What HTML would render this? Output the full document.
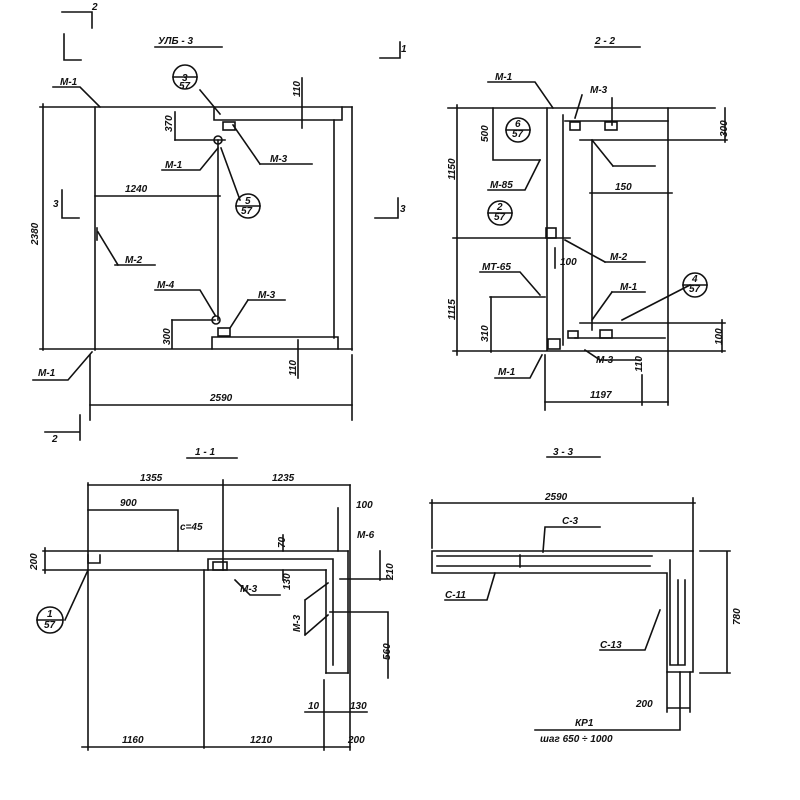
<!DOCTYPE html>
<html><head><meta charset="utf-8"><style>
html,body{margin:0;padding:0;background:#fff}
svg{display:block}
text{font-family:"Liberation Sans","DejaVu Sans",sans-serif;font-style:italic;font-size:10px;fill:#111;font-weight:bold}
</style></head><body>
<svg width="800" height="800" viewBox="0 0 800 800" xmlns="http://www.w3.org/2000/svg">
<g stroke="#111" stroke-width="1.6" fill="none" stroke-linecap="square">
<!-- ===== Top-left УЛБ-3 ===== -->
<path d="M62 12H92V28"/>
<path d="M64 34V60H81"/>
<path d="M62 190V218H79"/>
<path d="M380 58H400V42"/>
<path d="M375 218H398V198"/>
<path d="M155 47H222"/>
<path d="M40 107H352"/>
<path d="M43 104V350"/>
<path d="M95 107V350"/>
<path d="M352 107V350"/>
<path d="M334 120V338"/>
<path d="M214 107V120H342V107"/>
<path d="M212 349V337H338V349"/>
<path d="M218 140V320"/>
<path d="M40 349H352"/>
<path d="M175 140H225"/>
<path d="M172 320H215"/>
<path d="M95 196H220"/>
<path d="M90 355V420"/>
<path d="M352 355V420"/>
<path d="M90 405H352"/>
<path d="M80 415V440M45 432H80"/>
<path d="M302 78V128"/>
<path d="M298 340V378"/>
<path d="M175 112V140"/>
<path d="M172 320V348"/>
<path d="M53 87H80L100 107"/>
<path d="M33 380H68L92 352"/>
<path d="M115 265H155"/><path d="M98 232L118 265"/>
<path d="M162 170H200L218 148"/>
<path d="M260 164H312"/><path d="M233 125L260 164"/>
<path d="M155 290H200L215 315"/>
<path d="M248 300H285"/><path d="M230 328L248 300"/>
<path d="M200 90L220 114"/>
<path d="M221 148L240 200"/>
<rect x="223" y="122" width="12" height="8"/>
<rect x="218" y="328" width="12" height="8"/>
<circle cx="218" cy="140" r="4"/>
<circle cx="216" cy="320" r="4"/>
<circle cx="185" cy="77" r="12"/><path d="M173 77H197"/>
<circle cx="248" cy="206" r="12"/><path d="M236 206H260"/>
<path d="M97 228V240"/>

<!-- ===== Top-right 2-2 ===== -->
<path d="M595 47H640"/>
<path d="M448 108H715"/>
<path d="M457 105V355"/>
<path d="M453 351H725"/>
<path d="M547 108V350"/>
<path d="M563 115V345"/>
<path d="M668 108V405"/>
<path d="M565 121H668"/>
<path d="M580 140H727"/>
<path d="M592 140V330"/>
<path d="M580 323H725"/>
<path d="M575 338H665"/>
<path d="M590 193H672"/>
<path d="M453 238H570"/>
<path d="M493 108V160H540"/>
<path d="M490 297H545"/>
<path d="M491 297V352"/>
<path d="M725 108V142"/>
<path d="M722 320V352"/>
<path d="M545 355V410"/>
<path d="M545 402H668"/>
<path d="M555 248V268"/>
<path d="M488 82H535L553 108"/>
<path d="M488 190H525L540 160"/>
<path d="M480 272H520L540 295"/>
<path d="M495 378H530L542 355"/>
<path d="M600 360H640"/><path d="M585 350L600 360"/>
<path d="M605 262H645"/><path d="M565 240L605 262"/>
<path d="M613 166H655"/><path d="M592 140L613 166"/>
<path d="M612 292H645"/><path d="M592 320L612 292"/>
<path d="M622 320L690 285"/>
<path d="M612 98V125"/>
<path d="M642 375V405"/>
<path d="M582 95L575 118"/>
<rect x="546" y="228" width="10" height="10"/>
<rect x="548" y="339" width="12" height="10"/>
<rect x="568" y="331" width="10" height="7"/>
<rect x="600" y="330" width="12" height="8"/>
<rect x="570" y="122" width="10" height="8"/>
<rect x="605" y="122" width="12" height="8"/>
<circle cx="518" cy="130" r="12"/><path d="M506 130H530"/>
<circle cx="500" cy="213" r="12"/><path d="M488 213H512"/>
<circle cx="695" cy="285" r="12"/><path d="M683 285H707"/>

<!-- ===== Bottom-left 1-1 ===== -->
<path d="M187 458H237"/>
<path d="M88 483V750"/>
<path d="M88 485H350"/>
<path d="M223 480V570"/>
<path d="M350 485V750"/>
<path d="M88 510H178V551"/>
<path d="M43 551H348"/>
<path d="M43 570H326"/>
<path d="M45 548V573"/>
<path d="M348 551V673"/>
<path d="M326 570V673"/>
<path d="M326 673H348"/>
<path d="M208 570V559H333V665"/>
<path d="M204 570V748"/>
<path d="M82 747H350"/>
<path d="M324 680V750"/>
<path d="M305 712H367"/>
<path d="M330 612H388V678"/>
<path d="M340 579H390"/>
<path d="M380 551V580"/>
<path d="M338 508V551"/>
<path d="M283 535V551"/>
<path d="M283 570V580"/>
<path d="M88 555V563H100V555"/>
<path d="M235 580L250 595H280"/>
<path d="M305 600L328 583M305 635L328 615M305 600V635"/>
<path d="M65 620L88 570"/>
<rect x="213" y="562" width="14" height="8"/>
<circle cx="50" cy="620" r="13"/><path d="M37 620H63"/>

<!-- ===== Bottom-right 3-3 ===== -->
<path d="M547 457H600"/>
<path d="M432 500V548"/>
<path d="M430 503H695"/>
<path d="M693 498V551"/>
<path d="M432 551H693V672H667V573H432Z"/>
<path d="M437 556H652M437 566H650M520 555V567"/>
<path d="M670 560V665M678 580V665M685 580V665M670 665H685"/>
<path d="M700 551H730M700 673H730M727 551V673"/>
<path d="M667 672V712M690 672V712M667 708H690"/>
<path d="M600 527L545 527L543 552"/>
<path d="M445 600H487L495 573"/>
<path d="M600 650H645L660 610"/>
<path d="M535 730H680V672"/>
</g>
<g>
<text x="92" y="10" font-size="9">2</text>
<text x="158" y="44" font-size="13">УЛБ - 3</text>
<text x="60" y="85">М-1</text>
<text x="300" y="97" transform="rotate(-90 300 97)">110</text>
<text x="172" y="132" transform="rotate(-90 172 132)">370</text>
<text x="270" y="162">М-3</text>
<text x="165" y="168">М-1</text>
<text x="125" y="192">1240</text>
<text x="53" y="207">3</text>
<text x="38" y="245" transform="rotate(-90 38 245)">2380</text>
<text x="125" y="263">М-2</text>
<text x="157" y="288">М-4</text>
<text x="258" y="298">М-3</text>
<text x="170" y="345" transform="rotate(-90 170 345)">300</text>
<text x="296" y="376" transform="rotate(-90 296 376)">110</text>
<text x="38" y="376">М-1</text>
<text x="210" y="401">2590</text>
<text x="52" y="442" font-size="9">2</text>
<text x="182" y="81" font-size="8">3</text><text x="179" y="89" font-size="8">57</text>
<text x="245" y="204" font-size="8">5</text><text x="241" y="214" font-size="8">57</text>
<text x="401" y="52">1</text><text x="400" y="212">3</text>

<text x="595" y="44" font-size="13">2 - 2</text>
<text x="495" y="80">М-1</text>
<text x="590" y="93">М-3</text>
<text x="488" y="142" transform="rotate(-90 488 142)">500</text>
<text x="455" y="180" transform="rotate(-90 455 180)">1150</text>
<text x="727" y="137" transform="rotate(-90 727 137)">300</text>
<text x="490" y="188">М-85</text>
<text x="615" y="190">150</text>
<text x="610" y="260">М-2</text>
<text x="560" y="265" font-size="8">100</text>
<text x="482" y="270">МТ-65</text>
<text x="455" y="320" transform="rotate(-90 455 320)">1115</text>
<text x="488" y="342" transform="rotate(-90 488 342)">310</text>
<text x="620" y="290">М-1</text>
<text x="722" y="345" transform="rotate(-90 722 345)">100</text>
<text x="596" y="363">М-3</text>
<text x="642" y="372" transform="rotate(-90 642 372)">110</text>
<text x="498" y="375">М-1</text>
<text x="590" y="398">1197</text>
<text x="515" y="127" font-size="8">6</text><text x="512" y="137" font-size="8">57</text>
<text x="497" y="210" font-size="8">2</text><text x="494" y="220" font-size="8">57</text>
<text x="692" y="282" font-size="8">4</text><text x="689" y="292" font-size="8">57</text>

<text x="195" y="455" font-size="13">1 - 1</text>
<text x="140" y="481">1355</text>
<text x="272" y="481">1235</text>
<text x="120" y="506">900</text>
<text x="356" y="508">100</text>
<text x="180" y="530">с=45</text>
<text x="285" y="548" transform="rotate(-90 285 548)">70</text>
<text x="357" y="538">М-6</text>
<text x="37" y="570" transform="rotate(-90 37 570)">200</text>
<text x="393" y="580" transform="rotate(-90 393 580)">210</text>
<text x="240" y="592">М-3</text>
<text x="290" y="590" transform="rotate(-90 290 590)">130</text>
<text x="300" y="632" transform="rotate(-90 300 632)">М-3</text>
<text x="390" y="660" transform="rotate(-90 390 660)">560</text>
<text x="308" y="709">10</text>
<text x="350" y="709">130</text>
<text x="122" y="743">1160</text>
<text x="250" y="743">1210</text>
<text x="348" y="743">200</text>
<text x="47" y="617" font-size="8">1</text><text x="44" y="628" font-size="8">57</text>

<text x="553" y="455" font-size="13">3 - 3</text>
<text x="545" y="500">2590</text>
<text x="562" y="524">С-3</text>
<text x="445" y="598">С-11</text>
<text x="600" y="648">С-13</text>
<text x="740" y="625" transform="rotate(-90 740 625)">780</text>
<text x="636" y="707">200</text>
<text x="575" y="726">КР1</text>
<text x="540" y="742">шаг 650 ÷ 1000</text>
</g>
</svg>
</body></html>
